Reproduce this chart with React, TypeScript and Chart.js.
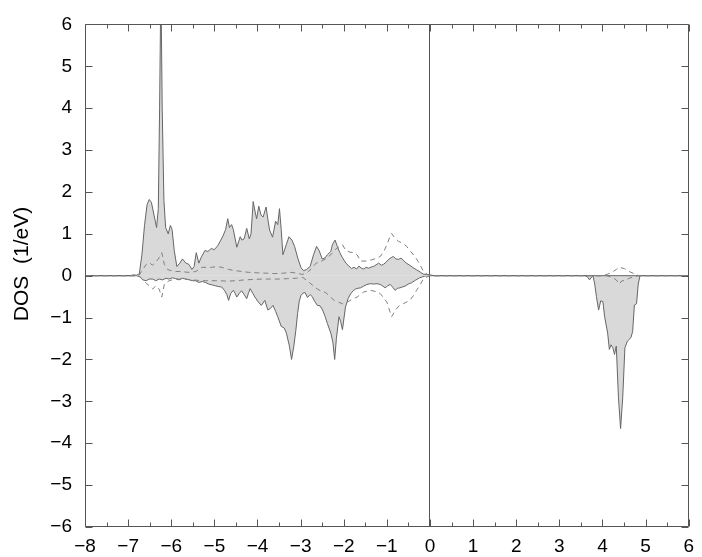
import React, { useEffect, useRef } from 'react';
import { Chart, registerables } from 'chart.js';

Chart.register(...registerables);

// Energy (eV) vs DOS (1/eV) — total spin-up (positive) and spin-down (negative)
const totalUp: [number, number][] = [
  [-8, 0], [-6.95, 0], [-6.88, 0.02], [-6.8, 0.01], [-6.74, 0.05], [-6.68, 0.5], [-6.62, 1.2],
  [-6.56, 1.7], [-6.51, 1.82], [-6.46, 1.75], [-6.4, 1.45], [-6.34, 1.15], [-6.3, 1.6], [-6.27, 4.0],
  [-6.24, 7.0], [-6.21, 4.0], [-6.17, 1.8], [-6.13, 1.15], [-6.07, 1.0], [-6.02, 1.2], [-5.98, 1.1],
  [-5.93, 0.6], [-5.87, 0.22], [-5.8, 0.3], [-5.74, 0.4], [-5.66, 0.3], [-5.59, 0.27], [-5.52, 0.15],
  [-5.47, 0.22], [-5.42, 0.55], [-5.36, 0.3], [-5.3, 0.45], [-5.22, 0.6], [-5.15, 0.58], [-5.07, 0.65],
  [-5.0, 0.62], [-4.92, 0.72], [-4.85, 0.85], [-4.8, 0.95], [-4.74, 1.1], [-4.69, 1.36], [-4.65, 1.15],
  [-4.6, 1.22], [-4.56, 1.1], [-4.48, 0.68], [-4.4, 0.93], [-4.36, 0.85], [-4.31, 0.88], [-4.25, 1.13],
  [-4.19, 0.88], [-4.15, 1.0], [-4.1, 1.77], [-4.05, 1.5], [-4.02, 1.36], [-3.97, 1.66], [-3.92, 1.45],
  [-3.87, 1.4], [-3.8, 1.64], [-3.76, 1.35], [-3.72, 1.09], [-3.65, 0.92], [-3.58, 1.3], [-3.53, 1.22],
  [-3.49, 1.6], [-3.45, 1.1], [-3.41, 0.5], [-3.33, 0.75], [-3.27, 0.93], [-3.2, 0.85], [-3.14, 0.7],
  [-3.06, 0.4], [-2.99, 0.19], [-2.93, 0.12], [-2.86, 0.15], [-2.78, 0.22], [-2.7, 0.5], [-2.63, 0.7],
  [-2.57, 0.6], [-2.5, 0.4], [-2.44, 0.42], [-2.38, 0.5], [-2.3, 0.58], [-2.26, 0.75], [-2.2, 0.85],
  [-2.15, 0.7], [-2.09, 0.55], [-2.03, 0.43], [-1.95, 0.3], [-1.88, 0.23], [-1.82, 0.17], [-1.76, 0.2],
  [-1.7, 0.16], [-1.65, 0.23], [-1.59, 0.18], [-1.54, 0.16], [-1.48, 0.2], [-1.42, 0.18], [-1.36, 0.21],
  [-1.31, 0.22], [-1.25, 0.26], [-1.19, 0.3], [-1.13, 0.25], [-1.08, 0.27], [-1.02, 0.32], [-0.96, 0.39],
  [-0.9, 0.43], [-0.85, 0.46], [-0.79, 0.4], [-0.73, 0.39], [-0.67, 0.42], [-0.62, 0.37], [-0.55, 0.3],
  [-0.47, 0.25], [-0.39, 0.19], [-0.31, 0.14], [-0.23, 0.09], [-0.16, 0.04], [-0.08, 0.03], [0, 0.02],
  [0.1, 0], [6, 0],
];

const totalDown: [number, number][] = [
  [-8, 0], [-6.8, 0], [-6.72, -0.03], [-6.66, -0.1], [-6.58, -0.12], [-6.51, -0.08], [-6.43, -0.08],
  [-6.36, -0.12], [-6.28, -0.08], [-6.2, -0.1], [-6.12, -0.06], [-6.05, -0.08], [-5.97, -0.05],
  [-5.9, -0.07], [-5.82, -0.1], [-5.74, -0.06], [-5.67, -0.08], [-5.58, -0.1], [-5.5, -0.12],
  [-5.44, -0.12], [-5.36, -0.16], [-5.28, -0.14], [-5.21, -0.16], [-5.13, -0.2], [-5.05, -0.22],
  [-4.98, -0.24], [-4.9, -0.26], [-4.83, -0.27], [-4.76, -0.36], [-4.71, -0.45], [-4.67, -0.59],
  [-4.62, -0.42], [-4.56, -0.35], [-4.52, -0.42], [-4.48, -0.51], [-4.42, -0.42], [-4.37, -0.36],
  [-4.31, -0.45], [-4.25, -0.55], [-4.21, -0.42], [-4.17, -0.31], [-4.11, -0.42], [-4.06, -0.51],
  [-3.98, -0.63], [-3.91, -0.71], [-3.83, -0.59], [-3.76, -0.82], [-3.7, -0.78], [-3.64, -0.71],
  [-3.58, -0.85], [-3.53, -0.98], [-3.45, -1.21], [-3.38, -1.25], [-3.33, -1.37], [-3.26, -1.68],
  [-3.21, -2.0], [-3.16, -1.7], [-3.11, -1.3], [-3.07, -0.9], [-3.03, -0.6], [-2.99, -0.47],
  [-2.95, -0.42], [-2.9, -0.4], [-2.84, -0.52], [-2.78, -0.45], [-2.73, -0.5], [-2.67, -0.62],
  [-2.61, -0.71], [-2.55, -0.72], [-2.49, -0.82], [-2.43, -0.98], [-2.38, -1.14], [-2.3, -1.37],
  [-2.25, -1.6], [-2.21, -2.0], [-2.17, -1.5], [-2.11, -0.98], [-2.07, -1.1], [-2.03, -1.29],
  [-1.96, -0.75], [-1.9, -0.55], [-1.84, -0.43], [-1.78, -0.36], [-1.73, -0.32], [-1.67, -0.3],
  [-1.61, -0.29], [-1.54, -0.25], [-1.46, -0.21], [-1.38, -0.19], [-1.31, -0.2], [-1.23, -0.19],
  [-1.15, -0.21], [-1.09, -0.25], [-1.04, -0.29], [-0.98, -0.24], [-0.92, -0.21], [-0.86, -0.28],
  [-0.81, -0.35], [-0.75, -0.3], [-0.7, -0.29], [-0.64, -0.27], [-0.58, -0.25], [-0.5, -0.2],
  [-0.43, -0.17], [-0.34, -0.11], [-0.24, -0.05], [-0.12, -0.01], [0, 0], [3.6, 0], [3.66, -0.04],
  [3.7, -0.1], [3.75, -0.03], [3.78, 0], [3.82, -0.2], [3.86, -0.5], [3.91, -0.82], [3.96, -0.6],
  [4.01, -0.62], [4.05, -0.98], [4.12, -1.37], [4.16, -1.76], [4.2, -1.65], [4.24, -1.72],
  [4.28, -1.88], [4.32, -1.68], [4.37, -2.9], [4.42, -3.65], [4.47, -2.9], [4.52, -1.72],
  [4.58, -1.56], [4.66, -1.48], [4.7, -1.33], [4.74, -0.7], [4.79, -0.67], [4.83, -0.2], [4.87, 0],
  [6, 0],
];

// Partial (projected) DOS — dashed curves
const partialUp: [number, number][] = [
  [-8, 0], [-6.75, 0], [-6.66, 0.15], [-6.58, 0.27], [-6.5, 0.31], [-6.44, 0.25], [-6.38, 0.3],
  [-6.3, 0.4], [-6.22, 0.55], [-6.16, 0.27], [-6.09, 0.15], [-6.0, 0.12], [-5.9, 0.1], [-5.78, 0.1],
  [-5.6, 0.08], [-5.43, 0.1], [-5.29, 0.2], [-5.15, 0.2], [-5.06, 0.2], [-4.95, 0.22], [-4.83, 0.2],
  [-4.67, 0.15], [-4.52, 0.12], [-4.35, 0.1], [-4.21, 0.08], [-4.0, 0.07], [-3.8, 0.06], [-3.6, 0.05],
  [-3.4, 0.06], [-3.2, 0.08], [-3.05, 0.05], [-2.95, 0.03], [-2.84, 0.08], [-2.74, 0.18], [-2.64, 0.3],
  [-2.53, 0.34], [-2.42, 0.4], [-2.3, 0.5], [-2.2, 0.62], [-2.1, 0.7], [-2.03, 0.74], [-1.95, 0.6],
  [-1.85, 0.56], [-1.76, 0.55], [-1.69, 0.5], [-1.61, 0.35], [-1.46, 0.35], [-1.35, 0.38], [-1.23, 0.42],
  [-1.15, 0.46], [-1.06, 0.6], [-1.0, 0.74], [-0.94, 0.9], [-0.89, 1.01], [-0.83, 0.92], [-0.73, 0.82],
  [-0.64, 0.78], [-0.54, 0.7], [-0.45, 0.58], [-0.35, 0.46], [-0.25, 0.3], [-0.16, 0.12], [-0.07, 0.04],
  [0, 0], [3.95, 0], [4.1, 0.03], [4.22, 0.08], [4.32, 0.15], [4.39, 0.2], [4.51, 0.17], [4.62, 0.1],
  [4.75, 0.04], [4.85, 0], [6, 0],
];

const partialDown: [number, number][] = [
  [-8, 0], [-6.75, 0], [-6.66, -0.1], [-6.58, -0.18], [-6.51, -0.24], [-6.43, -0.32], [-6.36, -0.24],
  [-6.28, -0.32], [-6.22, -0.51], [-6.16, -0.2], [-6.05, -0.12], [-5.9, -0.08], [-5.7, -0.08],
  [-5.5, -0.1], [-5.3, -0.12], [-5.1, -0.12], [-4.9, -0.12], [-4.7, -0.13], [-4.5, -0.12], [-4.3, -0.1],
  [-4.1, -0.09], [-3.9, -0.08], [-3.7, -0.08], [-3.5, -0.08], [-3.3, -0.07], [-3.1, -0.06],
  [-2.95, -0.04], [-2.8, -0.16], [-2.7, -0.25], [-2.61, -0.32], [-2.5, -0.38], [-2.42, -0.4],
  [-2.32, -0.5], [-2.22, -0.59], [-2.12, -0.63], [-2.03, -0.67], [-1.9, -0.62], [-1.78, -0.55],
  [-1.69, -0.51], [-1.54, -0.39], [-1.38, -0.35], [-1.25, -0.38], [-1.15, -0.43], [-1.06, -0.55],
  [-1.0, -0.63], [-0.94, -0.82], [-0.89, -0.98], [-0.82, -0.85], [-0.72, -0.72], [-0.62, -0.67],
  [-0.47, -0.59], [-0.38, -0.47], [-0.31, -0.35], [-0.22, -0.2], [-0.16, -0.09], [-0.07, -0.03],
  [0, 0], [4.1, 0], [4.25, -0.05], [4.32, -0.1], [4.39, -0.2], [4.45, -0.12], [4.51, -0.12],
  [4.62, -0.06], [4.75, -0.02], [4.85, 0], [6, 0],
];

const xRange = [-8, 6];
const yRange = [-6, 6];
const yTitle = 'DOS  (1/eV)';

const FONT = "'Liberation Sans', Arial, Helvetica, sans-serif";
const toPts = (arr: [number, number][]) => arr.map(([x, y]) => ({ x, y }));
const fmt = (v: number | string) => String(v).replace('-', '\u2212');

const frameTicks = {
  id: 'frameTicks',
  afterDraw(chart: any) {
    const { ctx, chartArea: a, scales } = chart;
    const xs = scales.x;
    const ys = scales.y;
    const L = Math.round(a.left) + 0.5;
    const R = Math.round(a.right) - 0.5;
    const T = Math.round(a.top) + 0.5;
    const B = Math.round(a.bottom) - 0.5;
    ctx.save();
    ctx.strokeStyle = '#555';
    ctx.lineWidth = 1;
    ctx.beginPath();
    ctx.rect(L, T, R - L, B - T);
    for (let i = 0; i <= (xs.max - xs.min) * 2; i++) {
      const v = xs.min + i * 0.5;
      const px = Math.round(xs.getPixelForValue(v)) + 0.5;
      const len = i % 2 === 0 ? 7 : 4;
      ctx.moveTo(px, B);
      ctx.lineTo(px, B - len);
      ctx.moveTo(px, T);
      ctx.lineTo(px, T + len);
    }
    for (let v = ys.min; v <= ys.max; v += 1) {
      const py = Math.round(ys.getPixelForValue(v)) + 0.5;
      ctx.moveTo(L, py);
      ctx.lineTo(L + 7, py);
      ctx.moveTo(R, py);
      ctx.lineTo(R - 7, py);
    }
    ctx.stroke();
    ctx.restore();
  },
};

export default function App() {
  const ref = useRef<HTMLCanvasElement | null>(null);

  useEffect(() => {
    if (!ref.current) return;
    const solid = {
      borderColor: '#666',
      backgroundColor: '#d9d9d9',
      borderWidth: 1,
      pointRadius: 0,
      tension: 0,
      fill: 'origin',
    };
    const dashed = {
      borderColor: '#808080',
      borderWidth: 1,
      borderDash: [5, 4],
      pointRadius: 0,
      tension: 0,
      fill: false,
    };
    const chart = new Chart(ref.current, {
      type: 'line',
      data: {
        datasets: [
          { ...dashed, label: 'partial up', data: toPts(partialUp) },
          { ...dashed, label: 'partial down', data: toPts(partialDown) },
          { ...solid, label: 'total up', data: toPts(totalUp) },
          { ...solid, label: 'total down', data: toPts(totalDown) },
        ],
      },
      options: {
        responsive: false,
        animation: false,
        events: [],
        layout: { padding: { top: 15, right: 7, left: 0, bottom: 0 } },
        plugins: { legend: { display: false }, tooltip: { enabled: false } },
        scales: {
          x: {
            type: 'linear',
            min: xRange[0],
            max: xRange[1],
            afterFit: (s: any) => { s.height = 30; },
            border: { display: false },
            grid: {
              drawTicks: false,
              lineWidth: 1,
              color: (c: any) => (c.tick && c.tick.value === 0 ? '#555' : 'rgba(0,0,0,0)'),
            },
            ticks: {
              stepSize: 1,
              autoSkip: false,
              maxRotation: 0,
              padding: 8,
              color: '#000',
              font: { family: FONT, size: 19 },
              callback: (v: any) => fmt(v),
            },
          },
          y: {
            type: 'linear',
            min: yRange[0],
            max: yRange[1],
            afterFit: (s: any) => { s.width = 85; },
            border: { display: false },
            grid: { display: false, drawTicks: false },
            title: {
              display: true,
              text: '    ' + yTitle,
              color: '#000',
              font: { family: FONT, size: 21 },
              padding: { top: 10, bottom: 0 },
            },
            ticks: {
              stepSize: 1,
              padding: 13,
              color: '#000',
              font: { family: FONT, size: 19 },
              callback: (v: any) => fmt(v),
            },
          },
        },
      },
      plugins: [frameTicks],
    } as any);
    return () => chart.destroy();
  }, []);

  return (
    <div style={{ position: 'absolute', left: 0, top: 0, width: 702, height: 557, background: '#fff' }}>
      <canvas ref={ref} width={702} height={557} style={{ width: 702, height: 557, display: 'block' }} />
    </div>
  );
}
